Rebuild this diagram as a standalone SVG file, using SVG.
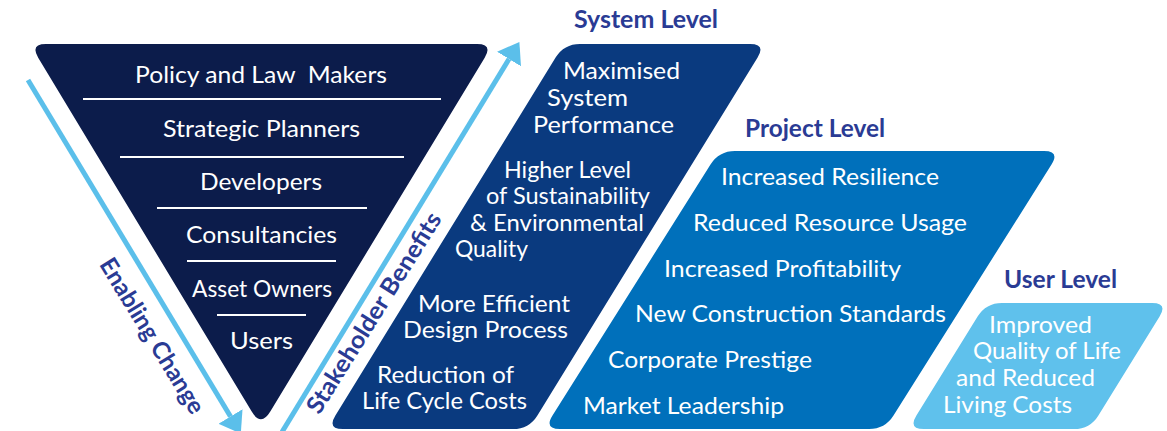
<svg xmlns="http://www.w3.org/2000/svg" width="1167" height="431" viewBox="0 0 1167 431">
  <style>
    .w { font-family: Lato, "Open Sans", "Liberation Sans", sans-serif; fill: #ffffff; font-size: 24px; }
    .s { font-size: 23px; }
    .h { font-family: Lato, "Open Sans", "Liberation Sans", sans-serif; fill: #2a3b94; font-size: 24px; font-weight: bold; }
    .r { font-family: Lato, "Open Sans", "Liberation Sans", sans-serif; fill: #2a3b94; font-size: 24px; font-weight: bold; }
    .sep { stroke: #ffffff; stroke-width: 2; }
    .arrow { stroke: #5bbfea; stroke-width: 5; fill: none; }
  </style>
  <defs>
    <marker id="head" markerUnits="userSpaceOnUse" viewBox="0 -14 20 28" refX="0" refY="0" markerWidth="20" markerHeight="28" orient="auto">
      <path d="M0,-14 L20,0 L0,14 Z" fill="#5bbfea"/>
    </marker>
  </defs>

  <g id="stakeholders">
    <path d="M46,44 L477,44 Q493,44 484.7,57.7 L270.3,411.6 Q261,427 251.7,411.6 L38.2,57.7 Q30,44 46,44 Z" fill="#0c1c4b"/>
    <line class="sep" x1="83" y1="99" x2="441" y2="99"/>
    <line class="sep" x1="120" y1="157" x2="404" y2="157"/>
    <line class="sep" x1="157" y1="208" x2="367" y2="208"/>
    <line class="sep" x1="187" y1="261" x2="336" y2="261"/>
    <line class="sep" x1="217" y1="315" x2="306" y2="315"/>
    <text class="w" x="135" y="83" textLength="252" lengthAdjust="spacingAndGlyphs" xml:space="preserve">Policy and Law  Makers</text>
    <text class="w" x="163" y="137" textLength="197" lengthAdjust="spacingAndGlyphs">Strategic Planners</text>
    <text class="w" x="200" y="190" textLength="122" lengthAdjust="spacingAndGlyphs">Developers</text>
    <text class="w" x="186" y="243" textLength="151" lengthAdjust="spacingAndGlyphs">Consultancies</text>
    <text class="w" x="192" y="297" font-size="22" textLength="140" lengthAdjust="spacingAndGlyphs">Asset Owners</text>
    <text class="w" x="230" y="349" textLength="63" lengthAdjust="spacingAndGlyphs">Users</text>
  </g>

  <g id="system-level">
    <path d="M580,44 L750,44 Q766,44 757.6,57.6 L537.4,415.4 Q529,429 513,429 L343,429 Q327,429 335.4,415.4 L555.6,57.6 Q564,44 580,44 Z" fill="#0a3a7f"/>
    <text class="h" x="574" y="28" textLength="144" lengthAdjust="spacingAndGlyphs">System Level</text>
    <text class="w s" x="563" y="79" textLength="117" lengthAdjust="spacingAndGlyphs">Maximised</text>
    <text class="w s" x="547" y="106" textLength="81" lengthAdjust="spacingAndGlyphs">System</text>
    <text class="w s" x="533" y="133" textLength="141" lengthAdjust="spacingAndGlyphs">Performance</text>
    <text class="w s" x="504" y="178" textLength="127" lengthAdjust="spacingAndGlyphs">Higher Level</text>
    <text class="w s" x="486" y="204" textLength="164" lengthAdjust="spacingAndGlyphs">of Sustainability</text>
    <text class="w s" x="470" y="231" textLength="174" lengthAdjust="spacingAndGlyphs">&amp; Environmental</text>
    <text class="w s" x="455" y="257" textLength="73" lengthAdjust="spacingAndGlyphs">Quality</text>
    <text class="w s" x="418" y="312" textLength="152" lengthAdjust="spacingAndGlyphs">More Efficient</text>
    <text class="w s" x="403" y="338" textLength="165" lengthAdjust="spacingAndGlyphs">Design Process</text>
    <text class="w s" x="377" y="383" textLength="137" lengthAdjust="spacingAndGlyphs">Reduction of</text>
    <text class="w s" x="362" y="409" textLength="165" lengthAdjust="spacingAndGlyphs">Life Cycle Costs</text>
  </g>

  <g id="project-level">
    <path d="M735,151 L1044,151 Q1060,151 1051.5,164.5 L893.5,415.5 Q885,429 869,429 L560,429 Q544,429 552.5,415.5 L710.5,164.5 Q719,151 735,151 Z" fill="#0070bb"/>
    <text class="h" x="745" y="137" textLength="140" lengthAdjust="spacingAndGlyphs">Project Level</text>
    <text class="w" x="721" y="185" textLength="218" lengthAdjust="spacingAndGlyphs">Increased Resilience</text>
    <text class="w" x="693" y="231" textLength="274" lengthAdjust="spacingAndGlyphs">Reduced Resource Usage</text>
    <text class="w" x="664" y="277" textLength="237" lengthAdjust="spacingAndGlyphs">Increased Profitability</text>
    <text class="w" x="635" y="322" textLength="311" lengthAdjust="spacingAndGlyphs">New Construction Standards</text>
    <text class="w" x="608" y="368" textLength="204" lengthAdjust="spacingAndGlyphs">Corporate Prestige</text>
    <text class="w" x="583" y="414" textLength="201" lengthAdjust="spacingAndGlyphs">Market Leadership</text>
  </g>

  <g id="user-level">
    <path d="M1002,303 L1152,303 Q1168,303 1159.6,316.6 L1098.4,415.4 Q1090,429 1074,429 L924,429 Q908,429 916.4,415.4 L977.6,316.6 Q986,303 1002,303 Z" fill="#5fc1ec"/>
    <text class="h" x="1004" y="288" textLength="113" lengthAdjust="spacingAndGlyphs">User Level</text>
    <text class="w s" x="989" y="333" textLength="103" lengthAdjust="spacingAndGlyphs">Improved</text>
    <text class="w s" x="973" y="359" textLength="148" lengthAdjust="spacingAndGlyphs">Quality of Life</text>
    <text class="w s" x="956" y="386" textLength="139" lengthAdjust="spacingAndGlyphs">and Reduced</text>
    <text class="w s" x="943" y="413" textLength="129" lengthAdjust="spacingAndGlyphs">Living Costs</text>
  </g>

  <g id="connectors">
    <line class="arrow" x1="28" y1="80" x2="230.5" y2="416.5" marker-end="url(#head)"/>
    <line class="arrow" x1="282" y1="432" x2="509" y2="59" marker-end="url(#head)"/>
    <text class="r" transform="translate(152,336) rotate(58.5)" x="0" y="8" text-anchor="middle" textLength="178" lengthAdjust="spacingAndGlyphs">Enabling Change</text>
    <text class="r" transform="translate(374,313) rotate(-58)" x="0" y="8" text-anchor="middle" textLength="232" lengthAdjust="spacingAndGlyphs">Stakeholder Benefits</text>
  </g>
</svg>
